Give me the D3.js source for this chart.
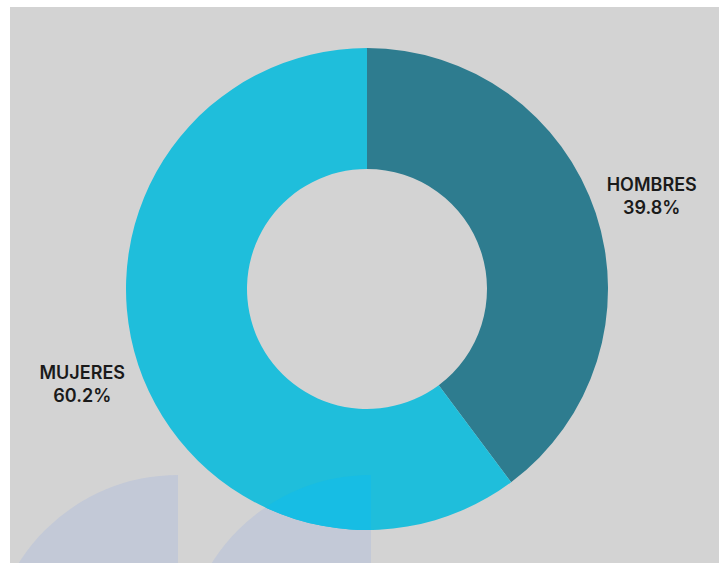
<!DOCTYPE html>
<html>
<head>
<meta charset="utf-8">
<script src="https://cdn.jsdelivr.net/npm/d3@7"></script>
<style>
  html, body { margin: 0; padding: 0; background: #ffffff; }
  svg { display: block; }
</style>
</head>
<body>
<svg id="chart" width="723" height="563"></svg>
<script>
// Gender distribution
const categories = ["HOMBRES", "MUJERES"];
const shares = [39.8, 60.2];
const labels = ["39.8%", "60.2%"];
const colors = ["#2e7c8f", "#1fbedb"];

const W = 723, H = 563;
const svg = d3.select("#chart");

// panel background
svg.append("rect")
  .attr("x", 10).attr("y", 7)
  .attr("width", 709).attr("height", H - 7)
  .attr("fill", "#d3d3d3");

const cx = 367, cy = 289;
const outerR = 241, innerR = 120;

const pie = d3.pie().sort(null).value(d => d.value);
const arcs = pie(categories.map((c, i) => ({ name: c, value: shares[i], label: labels[i], color: colors[i] })));
const arc = d3.arc().innerRadius(innerR).outerRadius(outerR);

// decorative quarter discs at the bottom
const decoR = 188, decoCy = 663;
const decoX = [178, 371];
function quarter(x) {
  return `M${x},${decoCy} L${x - decoR},${decoCy} A${decoR},${decoR} 0 0 1 ${x},${decoCy - decoR} Z`;
}
const clipPanel = svg.append("defs");
clipPanel.append("clipPath").attr("id", "panelClip")
  .append("rect").attr("x", 10).attr("y", 7).attr("width", 709).attr("height", H - 7);

const deco = svg.append("g").attr("clip-path", "url(#panelClip)");
deco.selectAll("path.deco").data(decoX).join("path")
  .attr("class", "deco")
  .attr("d", d => quarter(d))
  .attr("fill", "#c3c9d7");

// donut
const g = svg.append("g").attr("transform", `translate(${cx},${cy})`);
g.selectAll("path.slice").data(arcs).join("path")
  .attr("class", "slice")
  .attr("d", arc)
  .attr("fill", d => d.data.color);

// where the right disc sits over the donut the tint shifts
clipPanel.append("clipPath").attr("id", "donutClip")
  .append("path")
  .attr("transform", `translate(${cx},${cy})`)
  .attr("d", arc(arcs[1]));
svg.append("path")
  .attr("d", quarter(decoX[1]))
  .attr("clip-path", "url(#donutClip)")
  .attr("fill", "#17bde4");

// labels along each slice's mid-angle
const labelR = 300;
const lab = svg.append("g")
  .attr("font-family", "Inter, 'Noto Sans', sans-serif")
  .attr("font-weight", 600)
  .attr("font-size", 18)
  .attr("fill", "#1a1a1a")
  .attr("text-anchor", "middle");

arcs.forEach(d => {
  const a = (d.startAngle + d.endAngle) / 2;
  const x = cx + labelR * Math.sin(a);
  const y = cy - labelR * Math.cos(a);
  lab.append("text").attr("x", x).attr("y", y - 4).text(d.data.name);
  lab.append("text").attr("x", x).attr("y", y + 19).text(d.data.label);
});
</script>
</body>
</html>
